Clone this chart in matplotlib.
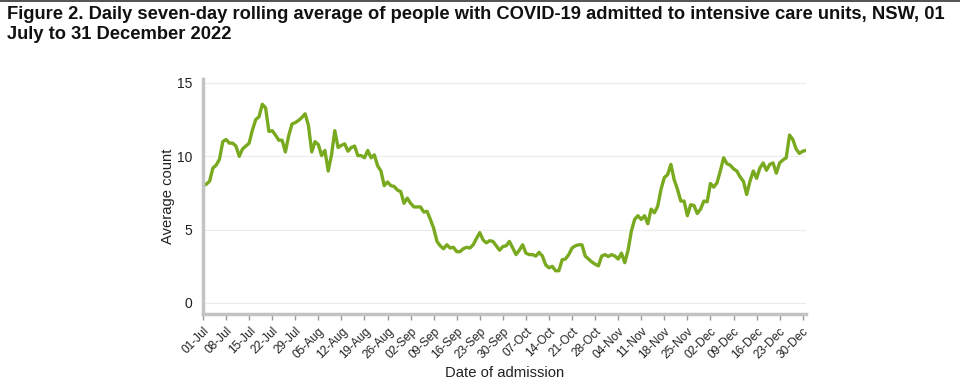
import matplotlib
matplotlib.use("Agg")
import matplotlib.pyplot as plt
import pandas as pd
from matplotlib.lines import Line2D

title = ("Figure 2. Daily seven-day rolling average of people with COVID-19 admitted to intensive care units, NSW, 01\n"
         "July to 31 December 2022")
x_label = "Date of admission"
y_label = "Average count"
start_date = "2022-07-01"

avg_count = [
    8.0, 8.1, 8.3, 9.2, 9.4, 9.8, 11.0, 11.15, 10.9, 10.9,
    10.7, 10.0, 10.5, 10.7, 10.9, 11.8, 12.5, 12.7, 13.55, 13.3,
    11.7, 11.75, 11.45, 11.1, 11.1, 10.3, 11.4, 12.2, 12.3, 12.45,
    12.65, 12.9, 12.1, 10.3, 11.0, 10.8, 10.05, 10.4, 9.0, 10.1,
    11.75, 10.6, 10.75, 10.85, 10.35, 10.6, 10.7, 10.05, 10.05, 9.9,
    10.4, 9.9, 10.1, 9.35, 9.0, 8.0, 8.25, 8.0, 7.95, 7.7,
    7.6, 6.8, 7.15, 6.8, 6.55, 6.55, 6.55, 6.2, 6.25, 5.7,
    5.1, 4.2, 3.9, 3.7, 3.97, 3.75, 3.8, 3.5, 3.5, 3.7,
    3.8, 3.75, 3.97, 4.4, 4.8, 4.3, 4.1, 4.25, 4.2, 3.9,
    3.6, 3.85, 3.9, 4.2, 3.75, 3.3, 3.6, 3.97, 3.4, 3.3,
    3.3, 3.2, 3.45, 3.2, 2.6, 2.4, 2.5, 2.2, 2.2, 2.95,
    3.0, 3.3, 3.75, 3.9, 3.97, 3.97, 3.2, 3.0, 2.8, 2.65,
    2.53, 3.2, 3.3, 3.17, 3.3, 3.2, 3.0, 3.4, 2.75, 3.6,
    4.9, 5.7, 5.95, 5.7, 5.95, 5.4, 6.4, 6.15, 6.6, 7.75,
    8.55, 8.75, 9.45, 8.4, 7.75, 6.95, 6.95, 5.95, 6.7, 6.65,
    6.1, 6.4, 6.95, 6.9, 8.15, 7.9, 8.2, 9.0, 9.9, 9.5,
    9.4, 9.15, 9.0, 8.6, 8.3, 7.4, 8.3, 9.0, 8.5, 9.2,
    9.55, 9.05, 9.45, 9.55, 8.85, 9.55, 9.75, 9.9, 11.45, 11.15,
    10.5, 10.2, 10.35, 10.4,
]
y_ticks = [0, 5, 10, 15]

dates = pd.date_range(start_date, periods=len(avg_count), freq="D")

plt.rcParams["font.family"] = ["Liberation Sans", "DejaVu Sans"]

fig = plt.figure(figsize=(9.6, 3.87), dpi=100)
ax = fig.add_axes([203/960, 1 - 314/387, (806 - 203)/960, (314 - 78.6)/387])

ax.plot(dates, avg_count, color="#78A91E", lw=2.4, solid_joinstyle="round")

ax.set_xlim(dates[0], dates[-1])
ax.set_ylim(-0.75, 15.3)
ax.set_yticks(y_ticks)
ax.yaxis.grid(True, color="#ececec", lw=0.8)
ax.set_axisbelow(True)

tick_dates = pd.date_range(start_date, dates[-1], freq="7D")
ax.set_xticks(tick_dates)
ax.set_xticklabels([d.strftime("%d-%b") for d in tick_dates], rotation=45,
                   ha="right", rotation_mode="anchor", fontsize=8.6, color="#222222")
ax.tick_params(axis="x", length=4, width=1, color="#999999", direction="out", pad=4)
ax.tick_params(axis="y", length=0, labelsize=10, labelcolor="#222222", pad=8)

for s in ["top", "right"]:
    ax.spines[s].set_visible(False)
for s in ["left", "bottom"]:
    ax.spines[s].set_color("#c3c3c3")
    ax.spines[s].set_linewidth(2.5)

ax.set_ylabel(y_label, fontsize=10.6, color="#222222", labelpad=1)
ax.set_xlabel(x_label, fontsize=10.7, color="#222222", labelpad=4)

fig.text(7/960, 1 - 6/387, title, ha="left", va="top", fontsize=13.2,
         fontweight="bold", color="#111111", linespacing=1.22)
fig.add_artist(Line2D([0, 1], [1 - 0.5/387, 1 - 0.5/387], color="#333333", lw=1.2,
                      transform=fig.transFigure))

fig.savefig("out.png", dpi=100)
